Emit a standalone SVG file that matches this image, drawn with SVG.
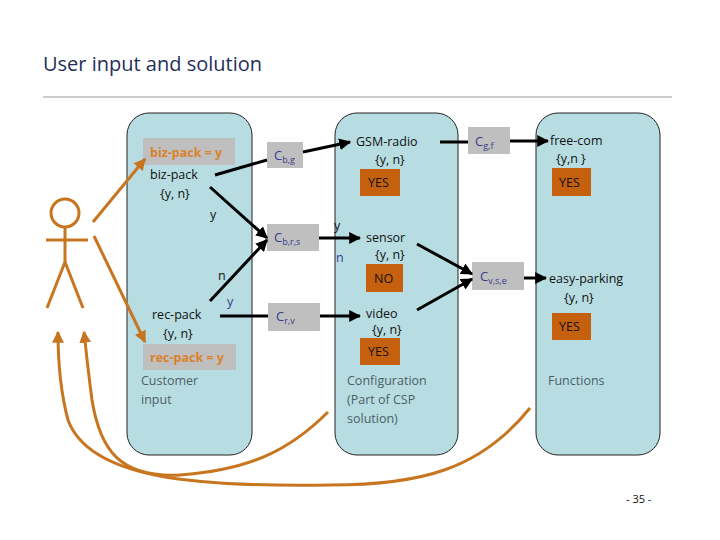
<svg xmlns="http://www.w3.org/2000/svg" width="720" height="540" viewBox="0 0 720 540">
<style>
text{font-family:"Open Sans","Noto Sans",sans-serif;font-size:12.5px;fill:#111}
.panel{fill:#B7DDE2;stroke:#222;stroke-width:1}
.lbl{fill:#BFBFBF}
.c{fill:#3A3A8C;font-size:13px}
.sub{font-size:9px;fill:#3A3A8C}
.yes{fill:#C5600E}
.or{fill:#D9822B;font-weight:bold}
.cap{fill:#4D5F66}
.bl{stroke:#000;stroke-width:3;fill:none}
.og{stroke:#C87520;stroke-width:3;fill:none}
</style>
<defs>
<marker id="ab" viewBox="0 0 10 10" refX="9" refY="5" markerWidth="4" markerHeight="4" orient="auto"><path d="M0,0L10,5L0,10z" fill="#000"/></marker>
<marker id="ao" viewBox="0 0 10 10" refX="9" refY="5" markerWidth="4" markerHeight="4" orient="auto"><path d="M0,0L10,5L0,10z" fill="#C87520"/></marker>
</defs>
<text x="43" y="71" style="font-size:20px;fill:#1F2F5A">User input and solution</text>
<line x1="43" y1="97" x2="672" y2="97" stroke="#999" stroke-width="1"/>
<g id="panel-customer"><rect class="panel" x="127" y="113" width="125" height="342" rx="22"/>
<text class="cap" x="141" y="385">Customer</text><text class="cap" x="141" y="404">input</text></g>
<g id="panel-config"><rect class="panel" x="335" y="113" width="123" height="342" rx="22"/>
<text class="cap" x="347" y="385">Configuration</text><text class="cap" x="347" y="404">(Part of CSP</text><text class="cap" x="347" y="423">solution)</text></g>
<g id="panel-functions"><rect class="panel" x="536" y="113" width="124" height="342" rx="22"/>
<text class="cap" x="548" y="385">Functions</text></g>
<g id="actor" stroke="#C87520" stroke-width="3" fill="none">
<circle cx="65" cy="213" r="14"/><line x1="46" y1="240" x2="88" y2="240"/><line x1="65" y1="227" x2="65" y2="262"/>
<line x1="65" y1="262" x2="47" y2="308"/><line x1="65" y1="262" x2="83" y2="308"/></g>
<g id="biz-pack-y"><rect class="lbl" x="143" y="138" width="92" height="27"/><text class="or" x="150" y="157">biz-pack = y</text></g>
<g id="biz-pack"><text x="150" y="179">biz-pack</text><text x="160" y="198">{y, n}</text><text x="210" y="219">y</text></g>
<g id="rec-pack"><text x="152" y="319">rec-pack</text><text x="163" y="338">{y, n}</text><text x="218" y="280">n</text><text x="227" y="306" style="fill:#3A3A8C">y</text></g>
<g id="rec-pack-y"><rect class="lbl" x="143" y="344" width="93" height="26"/><text class="or" x="150" y="362">rec-pack = y</text></g>
<g id="cbg"><rect class="lbl" x="267" y="142" width="36" height="26"/><text class="c" x="274" y="160">C<tspan class="sub" dy="3">b,g</tspan></text></g>
<g id="cbrs"><rect class="lbl" x="267" y="224" width="52" height="27"/><text class="c" x="274" y="242">C<tspan class="sub" dy="3">b,r,s</tspan></text></g>
<g id="crv"><rect class="lbl" x="268" y="303" width="52" height="28"/><text class="c" x="276" y="321">C<tspan class="sub" dy="3">r,v</tspan></text></g>
<g id="gsm"><text x="356" y="146">GSM-radio</text><text x="375" y="164">{y, n}</text><rect class="yes" x="360" y="169" width="40" height="27"/><text x="368" y="187">YES</text></g>
<g id="sensor"><text x="366" y="242">sensor</text><text x="375" y="259">{y, n}</text><text x="334" y="230">y</text><text x="336" y="262" style="fill:#3A3A8C">n</text>
<rect class="yes" x="366" y="264" width="37" height="28"/><text x="374" y="283">NO</text></g>
<g id="video"><text x="366" y="318">video</text><text x="372" y="334">{y, n}</text><rect class="yes" x="360" y="338" width="40" height="27"/><text x="368" y="356">YES</text></g>
<g id="cgf"><rect class="lbl" x="468" y="127" width="42" height="27"/><text class="c" x="475" y="146">C<tspan class="sub" dy="3">g,f</tspan></text></g>
<g id="cvse"><rect class="lbl" x="472" y="262" width="52" height="28"/><text class="c" x="480" y="281">C<tspan class="sub" dy="3">v,s,e</tspan></text></g>
<g id="freecom"><text x="550" y="145">free-com</text><text x="556" y="163">{y,n }</text><rect class="yes" x="552" y="168" width="39" height="28"/><text x="559" y="187">YES</text></g>
<g id="easyparking"><text x="549" y="283">easy-parking</text><text x="564" y="302">{y, n}</text><rect class="yes" x="552" y="313" width="39" height="27"/><text x="559" y="331">YES</text></g>
<g id="connectors">
<line class="bl" x1="215" y1="175" x2="267" y2="160"/><line class="bl" x1="303" y1="152" x2="350" y2="142" marker-end="url(#ab)"/>
<line class="bl" x1="210" y1="187" x2="267" y2="238" marker-end="url(#ab)"/><line class="bl" x1="210" y1="301" x2="267" y2="240" marker-end="url(#ab)"/>
<line class="bl" x1="319" y1="238" x2="360" y2="238" marker-end="url(#ab)"/>
<line class="bl" x1="220" y1="316" x2="268" y2="316"/><line class="bl" x1="320" y1="316" x2="360" y2="316" marker-end="url(#ab)"/>
<line class="bl" x1="440" y1="142" x2="468" y2="142"/><line class="bl" x1="510" y1="141" x2="548" y2="141" marker-end="url(#ab)"/>
<line class="bl" x1="417" y1="244" x2="472" y2="274" marker-end="url(#ab)"/><line class="bl" x1="417" y1="310" x2="472" y2="279" marker-end="url(#ab)"/>
<line class="bl" x1="524" y1="278" x2="546" y2="278" marker-end="url(#ab)"/>
<line class="og" x1="93" y1="222" x2="145" y2="159" marker-end="url(#ao)"/>
<line class="og" x1="94" y1="236" x2="145" y2="342" marker-end="url(#ao)"/>
<path class="og" d="M530,408 C480,470 420,485 330,485 C200,487 90,480 68,420 C60,390 58,360 58,332" marker-end="url(#ao)"/>
<path class="og" d="M328,412 C290,450 250,470 180,475 C120,478 100,450 92,400 C88,370 86,350 84,332" marker-end="url(#ao)"/>
</g>
<text x="626" y="503" style="font-size:11px">- 35 -</text>
</svg>
